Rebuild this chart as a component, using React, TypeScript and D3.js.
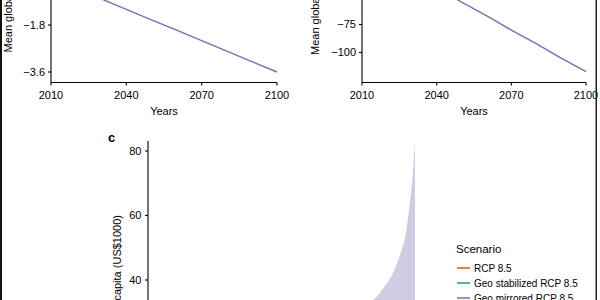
import React from 'react';
import * as d3 from 'd3';

// years shared by panels a and b
const years = [2010, 2020, 2030, 2040, 2050, 2060, 2070, 2080, 2090, 2100];
// panel a: mean global temperature change (only mirrored line is in view)
const tempRcp = [0.9, 1.2, 1.5, 1.9, 2.3, 2.7, 3.1, 3.6, 4.0, 4.5];
const tempStab = [0.9, 0.9, 0.9, 0.9, 0.9, 0.9, 0.9, 0.9, 0.9, 0.9];
const tempMirror = [0, -0.4, -0.8, -1.2, -1.6, -2.0, -2.4, -2.8, -3.2, -3.6];
const tempTicks = [-3.6, -1.8, 0];
// panel b: mean global precipitation change
const precRcp = [4, 17, 30, 42, 55, 67, 80, 92, 105, 117];
const precStab = [0, 0, 0, 0, 0, 0, 0, 0, 0, 0];
const precMirror = [-4, -17, -30, -42, -55, -67, -80, -92, -105, -117];
const precTicks = [-100, -75, -50];
const xTicks = [2010, 2040, 2070, 2100];
// panel c: GDP per capita band for mirrored scenario
const gdpYears = [2010, 2020, 2030, 2040, 2050, 2060, 2070, 2080, 2085, 2089, 2093, 2095, 2097, 2098, 2099, 2100];
const gdpUpper = [10, 12, 14, 16, 18, 21, 24, 29, 33, 37, 43, 48, 55, 62, 70, 83];
const gdpLower = [10, 11, 12, 13, 14, 15, 16, 17, 17, 17, 18, 18, 18, 18, 18, 18];
const gdpTicks = [20, 40, 60, 80];
const scenarios = ['RCP 8.5', 'Geo stabilized RCP 8.5', 'Geo mirrored RCP 8.5'];
const colors = ['#d95f02', '#1b9e77', '#7570b3'];

const font = 'Liberation Sans, Arial, sans-serif';

function TopPanel(props: any) {
  const { x0, x1, yScale, ticks, series, label, labelX, labelY } = props;
  const x = d3.scaleLinear().domain([2010, 2100]).range([x0, x1]);
  const base = 82.5;
  const line = d3.line<number>().x((d, i) => x(years[i])).y(d => yScale(d));
  return (
    <g>
      {series.map((s: number[], i: number) => (
        <path key={i} d={line(s) || ''} fill="none" stroke={colors[i]} strokeWidth={1.4} />
      ))}
      <line x1={x0} x2={x0} y1={-5} y2={base} stroke="#000" strokeWidth={1.1} />
      <line x1={x0} x2={x1} y1={base} y2={base} stroke="#000" strokeWidth={1.1} />
      {ticks.map((t: number) => (
        <g key={t}>
          <line x1={x0 - 3} x2={x0} y1={yScale(t)} y2={yScale(t)} stroke="#000" strokeWidth={1.1} />
          <text x={x0 - 6} y={yScale(t)} dy="0.35em" textAnchor="end" fontSize={11}>
            {d3.format('')(t).replace('-', '\u2212')}
          </text>
        </g>
      ))}
      {xTicks.map(t => (
        <g key={t}>
          <line x1={x(t)} x2={x(t)} y1={base} y2={base + 3} stroke="#000" strokeWidth={1.1} />
          <text x={x(t)} y={base + 13} dy="0.35em" textAnchor="middle" fontSize={11}>{t}</text>
        </g>
      ))}
      <text x={(x0 + x1) / 2} y={111} dy="0.35em" textAnchor="middle" fontSize={11}>Years</text>
      <text transform={`translate(${labelX},${labelY}) rotate(-90)`} dy="0.35em" fontSize={11}>{label}</text>
    </g>
  );
}

export default function App() {
  const yA = d3.scaleLinear().domain([-3.6, -1.8]).range([72, 25]);
  const yB = d3.scaleLinear().domain([-100, -75]).range([52.5, 24.5]);
  const xC = d3.scaleLinear().domain([2010, 2100]).range([148, 415]);
  const yC = d3.scaleLinear().domain([40, 80]).range([280, 151]);
  const area = d3.area<number>()
    .x((d, i) => xC(gdpYears[i]))
    .y0((d, i) => yC(gdpLower[i]))
    .y1(d => yC(d))
    .curve(d3.curveMonotoneX);

  return (
    <svg width={600} height={300} style={{ position: 'absolute', left: 0, top: 0, background: '#fff' }}
      fontFamily={font}>
      <rect width={600} height={300} fill="#fff" />
      <TopPanel x0={51} x1={277} yScale={yA} ticks={tempTicks} series={[tempRcp, tempStab, tempMirror]}
        label="Mean global temperature change (°C)" labelX={8} labelY={52.5} />
      <TopPanel x0={362} x1={586} yScale={yB} ticks={precTicks} series={[precRcp, precStab, precMirror]}
        label="Mean global precipitation change (mm)" labelX={315} labelY={55} />

      {/* panel c */}
      <path d={area(gdpUpper) || ''} fill={colors[2]} fillOpacity={0.35} />
      <line x1={148} x2={148} y1={141} y2={305} stroke="#000" strokeWidth={1.1} />
      {gdpTicks.map(t => (
        <g key={t}>
          <line x1={145} x2={148} y1={yC(t)} y2={yC(t)} stroke="#000" strokeWidth={1.1} />
          <text x={141.5} y={yC(t)} dy="0.35em" textAnchor="end" fontSize={11}>{t}</text>
        </g>
      ))}
      <text x={108} y={142} fontSize={13} fontWeight="bold">c</text>
      <text transform="translate(117,215) rotate(-90)" dy="0.35em" textAnchor="end" fontSize={11}>
        GDP per capita (US$1000)
      </text>

      {/* legend */}
      <text x={456} y={249} dy="0.35em" fontSize={11.5}>Scenario</text>
      {scenarios.map((s, i) => (
        <g key={s}>
          <line x1={457} x2={470} y1={268 + i * 15} y2={268 + i * 15} stroke={colors[i]} strokeWidth={1.5} />
          <text x={474} y={268 + i * 15} dy="0.35em" fontSize={10}>{s}</text>
        </g>
      ))}

      {/* figure border */}
      <rect x={0} y={0} width={2} height={300} fill="#111" />
      <rect x={595.5} y={0} width={1.5} height={300} fill="#222" />
    </svg>
  );
}
